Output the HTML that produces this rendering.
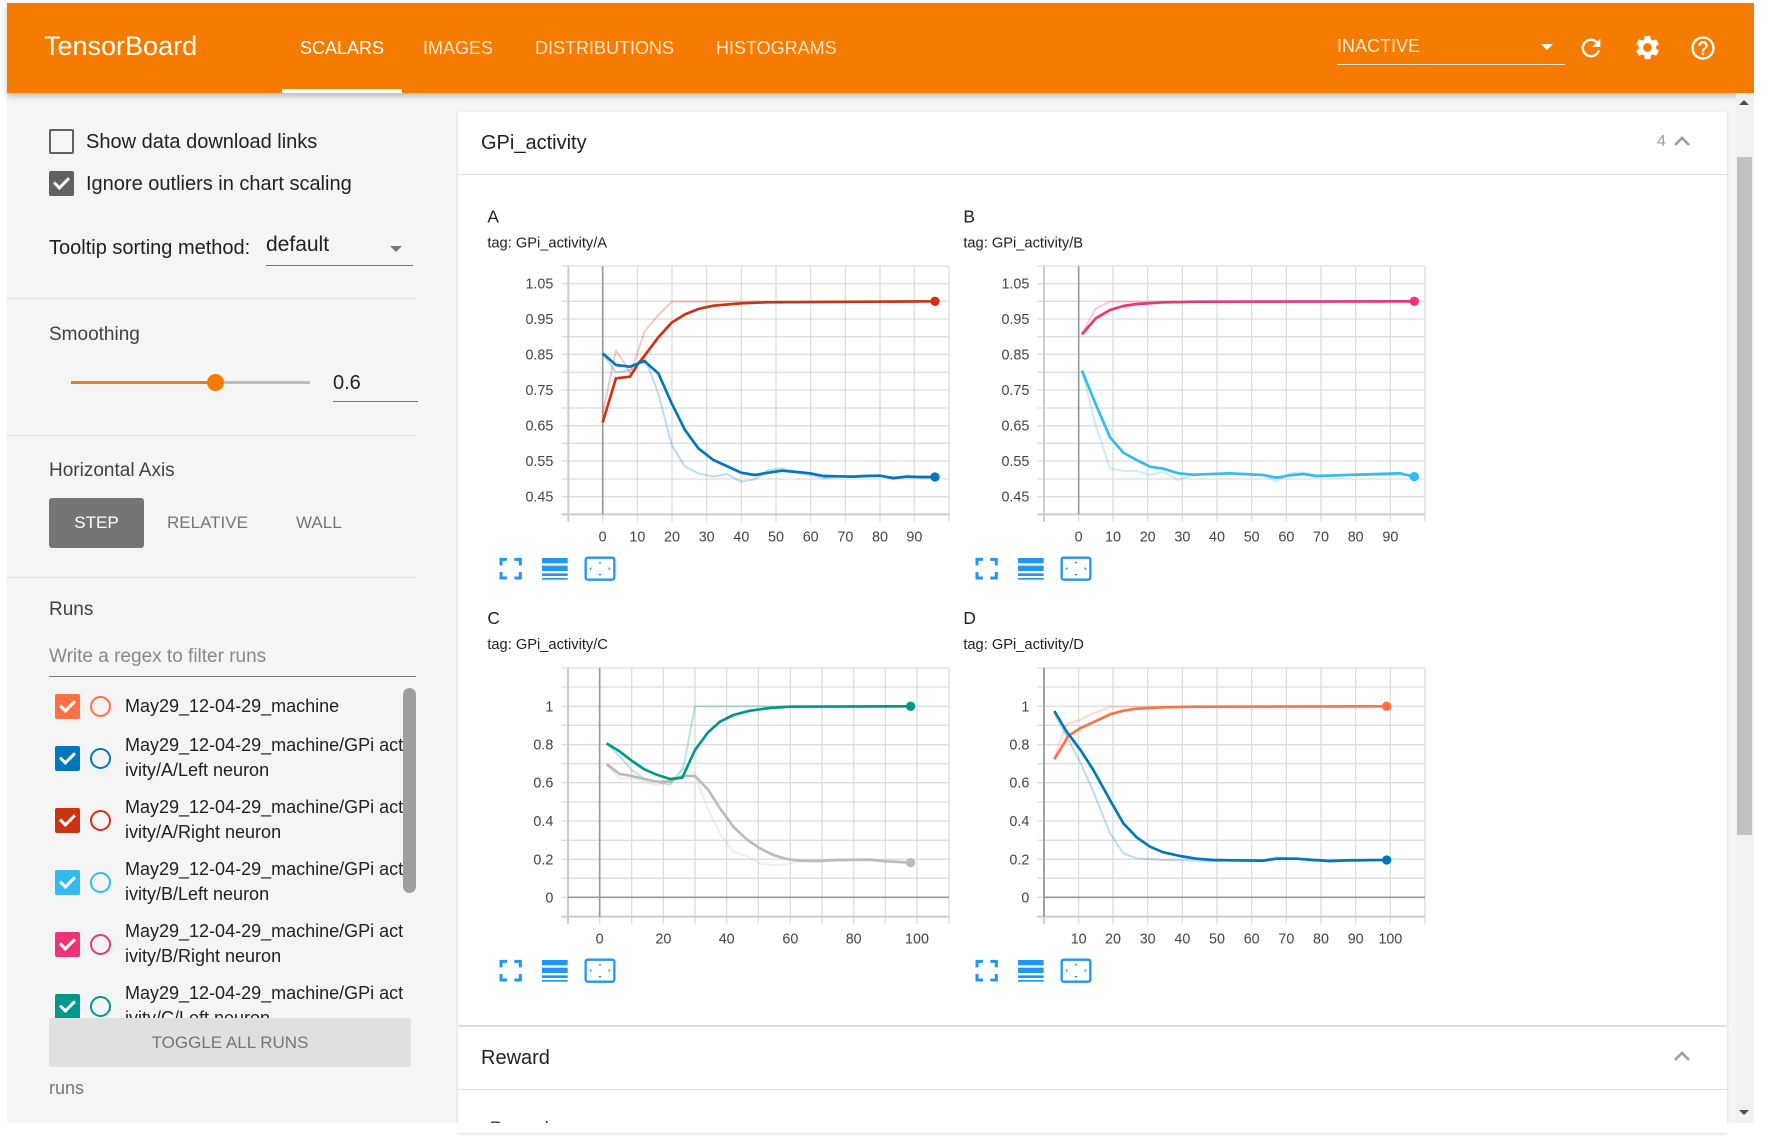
<!DOCTYPE html>
<html><head><meta charset="utf-8">
<style>
*{margin:0;padding:0;box-sizing:border-box}
body{width:1765px;height:1133px;overflow:hidden;background:#fff;font-family:"Liberation Sans",sans-serif;position:relative}
.a{position:absolute;white-space:nowrap}
.cb{position:absolute;width:25px;height:25px;border-radius:2px}
.ck::after{content:"";position:absolute;left:8px;top:3px;width:6px;height:12px;border:solid #fff;border-width:0 3px 3px 0;transform:rotate(45deg)}
.circ{position:absolute;width:21px;height:21px;border-radius:50%;border:2px solid}
.rt{position:absolute;left:125px;font-size:18px;color:#212121;line-height:25px}
</style></head><body>
<div class="a" style="left:7px;top:3px;width:1747px;height:1120px;background:#f5f5f5"></div>
<div class="a" style="left:7px;top:3px;width:1747px;height:90px;background:#f57c00;box-shadow:0 3px 6px rgba(0,0,0,.25)"></div>
<div class="a" style="left:44px;top:31px;font-size:27px;color:#fff">TensorBoard</div>
<div class="a" style="left:300px;top:38px;font-size:18px;color:#fff">SCALARS</div>
<div class="a" style="left:423px;top:38px;font-size:18px;color:rgba(255,255,255,.8)">IMAGES</div>
<div class="a" style="left:535px;top:38px;font-size:18px;color:rgba(255,255,255,.8)">DISTRIBUTIONS</div>
<div class="a" style="left:716px;top:38px;font-size:18px;color:rgba(255,255,255,.8)">HISTOGRAMS</div>
<div class="a" style="left:282px;top:89px;width:120px;height:4px;background:#fff"></div>
<div class="a" style="left:1337px;top:36px;font-size:18px;color:rgba(255,255,255,.8)">INACTIVE</div>
<div class="a" style="left:1337px;top:64px;width:228px;height:1px;background:rgba(255,255,255,.8)"></div>
<div class="a" style="left:1541px;top:44px;width:0;height:0;border-left:6px solid transparent;border-right:6px solid transparent;border-top:6px solid #fff"></div>
<svg class="a" style="left:1577px;top:34px" width="28" height="28" viewBox="0 0 24 24"><path fill="#fff" d="M17.65 6.35A7.958 7.958 0 0 0 12 4c-4.42 0-7.990 3.58-7.99 8s3.57 8 7.99 8c3.73 0 6.84-2.550 7.730-6h-2.080A5.99 5.99 0 0 1 12 18c-3.31 0-6-2.69-6-6s2.69-6 6-6c1.66 0 3.14.69 4.22 1.78L13 11h7V4l-2.35 2.35z"/></svg>
<svg class="a" style="left:1633px;top:33px" width="29" height="29" viewBox="0 0 24 24"><path fill="#fff" d="M19.14 12.94c.04-.3.06-.61.06-.94 0-.32-.02-.64-.07-.94l2.030-1.580a.49.49 0 0 0 .12-.61l-1.920-3.320a.488.488 0 0 0-.59-.22l-2.39.96c-.5-.38-1.030-.7-1.620-.94l-.36-2.540a.484.484 0 0 0-.48-.41h-3.84c-.24 0-.43.17-.47.41l-.36 2.540c-.59.24-1.130.57-1.620.94l-2.39-.96c-.22-.08-.47 0-.59.22L2.740 8.870c-.12.21-.08.47.12.61l2.030 1.580c-.05.3-.09.63-.09.94s.02.64.07.94l-2.030 1.580a.49.49 0 0 0-.12.61l1.920 3.320c.12.22.37.29.59.22l2.39-.96c.5.38 1.030.7 1.620.94l.36 2.540c.05.24.24.41.48.41h3.84c.24 0 .44-.17.47-.41l.36-2.540c.59-.24 1.130-.56 1.620-.94l2.39.96c.22.08.47 0 .59-.22l1.920-3.320c.12-.22.07-.47-.12-.61l-2.010-1.580zM12 15.6c-1.98 0-3.6-1.62-3.6-3.6s1.620-3.6 3.6-3.6 3.6 1.620 3.6 3.6-1.620 3.6-3.6 3.6z"/></svg>
<svg class="a" style="left:1689px;top:34px" width="28" height="28" viewBox="0 0 24 24"><path fill="#fff" d="M11 18h2v-2h-2v2zm1-16C6.48 2 2 6.48 2 12s4.48 10 10 10 10-4.48 10-10S17.52 2 12 2zm0 18c-4.41 0-8-3.59-8-8s3.59-8 8-8 8 3.59 8 8-3.59 8-8 8zm0-14c-2.21 0-4 1.79-4 4h2c0-1.1.9-2 2-2s2 .9 2 2c0 2-3 1.75-3 5h2c0-2.25 3-2.5 3-5 0-2.21-1.79-4-4-4z"/></svg>

<div class="cb" style="left:49px;top:129px;border:2px solid #616161"></div>
<div class="a" style="left:86px;top:131px;font-size:20px;color:#212121">Show data download links</div>
<div class="cb ck" style="left:49px;top:171px;background:#616161"></div>
<div class="a" style="left:86px;top:173px;font-size:20px;color:#212121">Ignore outliers in chart scaling</div>
<div class="a" style="left:49px;top:237px;font-size:20px;color:#212121">Tooltip sorting method:</div>
<div class="a" style="left:266px;top:233px;font-size:21px;color:#212121">default</div>
<div class="a" style="left:266px;top:265px;width:147px;height:1px;background:#777"></div>
<div class="a" style="left:390px;top:246px;border-left:6px solid transparent;border-right:6px solid transparent;border-top:6px solid #777"></div>
<div class="a" style="left:7px;top:298px;width:409px;height:1px;background:#ddd"></div>
<div class="a" style="left:49px;top:324px;font-size:19px;color:#424242">Smoothing</div>
<div class="a" style="left:71px;top:381px;width:144px;height:3px;background:#f57c00"></div>
<div class="a" style="left:215px;top:381px;width:95px;height:3px;background:#bdbdbd"></div>
<div class="a" style="left:207px;top:374px;width:17px;height:17px;border-radius:50%;background:#f57c00"></div>
<div class="a" style="left:333px;top:372px;font-size:20px;color:#212121">0.6</div>
<div class="a" style="left:333px;top:401px;width:85px;height:1px;background:#777"></div>
<div class="a" style="left:7px;top:435px;width:409px;height:1px;background:#ddd"></div>
<div class="a" style="left:49px;top:460px;font-size:19px;color:#424242">Horizontal Axis</div>
<div class="a" style="left:49px;top:498px;width:95px;height:50px;background:#757575;border-radius:3px;color:#fff;font-size:17px;text-align:center;line-height:50px">STEP</div>
<div class="a" style="left:167px;top:513px;font-size:17px;color:#757575">RELATIVE</div>
<div class="a" style="left:296px;top:513px;font-size:17px;color:#757575">WALL</div>
<div class="a" style="left:7px;top:577px;width:409px;height:1px;background:#ddd"></div>
<div class="a" style="left:49px;top:599px;font-size:19px;color:#424242">Runs</div>
<div class="a" style="left:49px;top:646px;font-size:19px;color:#888">Write a regex to filter runs</div>
<div class="a" style="left:49px;top:676px;width:367px;height:1px;background:#777"></div>
<div class="a" style="left:0;top:688px;width:420px;height:330px;overflow:hidden">
 <div class="cb ck" style="left:55px;top:6px;background:#ff7043"></div><div class="circ" style="left:90px;top:8px;border-color:#ff7043"></div><div class="rt" style="top:6px">May29_12-04-29_machine</div>
 <div class="cb ck" style="left:55px;top:58px;background:#0077bb"></div><div class="circ" style="left:90px;top:60px;border-color:#0077bb"></div><div class="rt" style="top:45px">May29_12-04-29_machine/GPi act<br>ivity/A/Left neuron</div>
 <div class="cb ck" style="left:55px;top:120px;background:#cc3311"></div><div class="circ" style="left:90px;top:122px;border-color:#cc3311"></div><div class="rt" style="top:107px">May29_12-04-29_machine/GPi act<br>ivity/A/Right neuron</div>
 <div class="cb ck" style="left:55px;top:182px;background:#33bbee"></div><div class="circ" style="left:90px;top:184px;border-color:#33bbee"></div><div class="rt" style="top:169px">May29_12-04-29_machine/GPi act<br>ivity/B/Left neuron</div>
 <div class="cb ck" style="left:55px;top:244px;background:#ee3377"></div><div class="circ" style="left:90px;top:246px;border-color:#ee3377"></div><div class="rt" style="top:231px">May29_12-04-29_machine/GPi act<br>ivity/B/Right neuron</div>
 <div class="cb ck" style="left:55px;top:306px;background:#009988"></div><div class="circ" style="left:90px;top:308px;border-color:#009988"></div><div class="rt" style="top:293px">May29_12-04-29_machine/GPi act<br>ivity/C/Left neuron</div>
 <div class="a" style="left:403px;top:0;width:13px;height:205px;border-radius:7px;background:#9e9e9e"></div>
</div>
<div class="a" style="left:49px;top:1018px;width:362px;height:49px;background:#e0e0e0;border-radius:3px;color:#757575;font-size:17px;text-align:center;line-height:49px">TOGGLE ALL RUNS</div>
<div class="a" style="left:49px;top:1078px;font-size:18px;color:#757575">runs</div>

<div class="a" style="left:458px;top:112px;width:1269px;height:913px;background:#fff;box-shadow:0 1px 3px rgba(0,0,0,.15)"></div>
<div class="a" style="left:458px;top:174px;width:1269px;height:1px;background:#e0e0e0"></div>
<div class="a" style="left:481px;top:132px;font-size:20px;color:#212121">GPi_activity</div>
<div class="a" style="left:1657px;top:133px;font-size:16px;color:#9e9e9e">4</div>
<svg class="a" style="left:1672px;top:134px" width="20" height="14" viewBox="0 0 20 14"><path d="M3 11 L10 4 L17 11" fill="none" stroke="#9e9e9e" stroke-width="2.6"/></svg>
<div class="a" style="left:458px;top:1027px;width:1269px;height:106px;background:#fff;box-shadow:0 1px 3px rgba(0,0,0,.15)"></div>
<div class="a" style="left:458px;top:1089px;width:1269px;height:1px;background:#e0e0e0"></div>
<div class="a" style="left:481px;top:1047px;font-size:20px;color:#212121">Reward</div>
<svg class="a" style="left:1672px;top:1049px" width="20" height="14" viewBox="0 0 20 14"><path d="M3 11 L10 4 L17 11" fill="none" stroke="#9e9e9e" stroke-width="2.6"/></svg>
<div class="a" style="left:490px;top:1118px;font-size:17px;color:#212121">Reward</div>
<div class="a" style="left:0;top:1123px;width:1765px;height:10px;background:#fff"></div>
<div class="a" style="left:1736px;top:93px;width:17px;height:1030px;background:#f1f1f1"></div>
<div class="a" style="left:1737px;top:157px;width:15px;height:678px;background:#c1c1c1"></div>
<div class="a" style="left:1739px;top:100px;border-left:5px solid transparent;border-right:5px solid transparent;border-bottom:5px solid #505050"></div>
<div class="a" style="left:1739px;top:1110px;border-left:5px solid transparent;border-right:5px solid transparent;border-top:5px solid #505050"></div>
<div class="a" style="left:1754px;top:0;width:11px;height:1133px;background:#fff"></div>

<div id="charts"></div>
<script>
function pl(p){return p.map(function(q){return q[0]+','+q[1]}).join(' ');}
function chart(c){
 var s='<svg class="a" style="left:'+c.ox+'px;top:'+c.oy+'px" width="520" height="'+c.h+'" viewBox="0 0 1560 '+(c.h*3)+'" font-family="Liberation Sans, sans-serif">';
 var V=c.v,H=c.hl,L=V[0],R=V[V.length-1],T=H[0],B=H[H.length-1];
 s+='<text x="'+c.tx+'" y="'+(c.ty+17)+'" font-size="52" fill="#212121">'+c.title+'</text>';
 s+='<text x="'+c.tx+'" y="'+(c.ty+92)+'" font-size="44" fill="#212121">tag: GPi_activity/'+c.title+'</text>';
 H.forEach(function(y){s+='<line x1="'+(L-20)+'" x2="'+R+'" y1="'+y+'" y2="'+y+'" stroke="#ddd" stroke-width="4"/>';});
 V.forEach(function(x){s+='<line x1="'+x+'" x2="'+x+'" y1="'+T+'" y2="'+(B+22)+'" stroke="#ddd" stroke-width="4"/>';});
 s+='<line x1="'+L+'" x2="'+L+'" y1="'+T+'" y2="'+(B+22)+'" stroke="#ccc" stroke-width="6"/>';
 s+='<line x1="'+(L-20)+'" x2="'+R+'" y1="'+B+'" y2="'+B+'" stroke="#ccc" stroke-width="6"/>';
 if(c.zv)s+='<line x1="'+c.zv+'" x2="'+c.zv+'" y1="'+T+'" y2="'+B+'" stroke="#999" stroke-width="5"/>';
 if(c.zh)s+='<line x1="'+L+'" x2="'+R+'" y1="'+c.zh+'" y2="'+c.zh+'" stroke="#999" stroke-width="5"/>';
 c.yl.forEach(function(t){s+='<text x="'+c.lx+'" y="'+(t[1]+15)+'" font-size="43" fill="#444" text-anchor="end">'+t[0]+'</text>';});
 c.xl.forEach(function(t){s+='<text x="'+t[1]+'" y="'+(c.xy+15)+'" font-size="43" fill="#444" text-anchor="middle">'+t[0]+'</text>';});
 c.s.forEach(function(r){s+='<polyline points="'+pl(r.raw)+'" fill="none" stroke="'+r.c+'" stroke-opacity="0.25" stroke-width="6" stroke-linejoin="round"/>';});
 c.s.forEach(function(r){s+='<polyline points="'+pl(r.sm)+'" fill="none" stroke="'+r.c+'" stroke-width="8" stroke-linejoin="round"/>';var e=r.sm[r.sm.length-1];s+='<circle cx="'+e[0]+'" cy="'+e[1]+'" r="14" fill="'+r.c+'"/>';});
 var ix=c.ix,iy=c.iy,b='#2196f3';
 s+='<path d="M'+ix+' '+(iy+18)+'V'+iy+'H'+(ix+18)+'M'+(ix+40)+' '+iy+'H'+(ix+58)+'V'+(iy+18)+'M'+(ix+58)+' '+(iy+38)+'V'+(iy+56)+'H'+(ix+40)+'M'+(ix+18)+' '+(iy+56)+'H'+ix+'V'+(iy+38)+'" fill="none" stroke="'+b+'" stroke-width="9"/>';
 var lx=ix+123;s+='<rect x="'+lx+'" y="'+(iy-4)+'" width="77" height="16" fill="'+b+'"/><rect x="'+lx+'" y="'+(iy+19)+'" width="77" height="16" fill="'+b+'"/><rect x="'+lx+'" y="'+(iy+42)+'" width="77" height="8" fill="'+b+'"/><rect x="'+lx+'" y="'+(iy+56)+'" width="77" height="5" fill="'+b+'"/>';
 var fx=ix+254;s+='<rect x="'+fx+'" y="'+(iy-5)+'" width="86" height="66" rx="6" fill="none" stroke="'+b+'" stroke-width="7"/>';
 s+='<path d="M'+(fx+38)+' '+(iy+12)+'l5 -6 5 6zM'+(fx+38)+' '+(iy+44)+'l5 6 5 -6zM'+(fx+17)+' '+(iy+23)+'l-6 5 6 5zM'+(fx+69)+' '+(iy+23)+'l6 5 -6 5z" fill="'+b+'"/>';
 return s+'</svg>';
}
var HA=[258,311,364,417,470,523,577,630,684,737,790,843,897,950,1003];
var HC=[204,261,319,376,434,491,548,606,663,721,778,835,892,950];
var yA=[['1.05',311],['0.95',417],['0.85',523],['0.75',630],['0.65',737],['0.55',843],['0.45',950]];
var yC=[['1',319],['0.8',434],['0.6',548],['0.4',663],['0.2',778],['0',892]];
var out='';
out+=chart({ox:450,oy:180,h:420,title:'A',tx:112,ty:110,v:[355,458,562,666,770,874,978,1082,1186,1290,1393,1497],hl:HA,zv:458,yl:yA,lx:310,
 xl:[['0',458],['10',562],['20',666],['30',770],['40',874],['50',978],['60',1082],['70',1186],['80',1290],['90',1393]],xy:1070,ix:153,iy:1138,
 s:[{c:'#cc3311',raw:[[458,700],[498,512],[520,545],[540,580],[562,520],[583,455],[625,405],[665,365],[1455,364]],
     sm:[[458,727],[498,595],[540,590],[562,555],[583,528],[625,472],[665,428],[705,403],[745,387],[790,377],[873,370],[950,367],[1455,364]]},
    {c:'#0077bb',raw:[[458,520],[498,578],[540,570],[583,530],[625,640],[665,795],[705,860],[745,880],[790,890],[830,882],[873,905],[915,898],[955,870],[997,865],[1040,878],[1080,885],[1120,895],[1165,890],[1210,888],[1250,886],[1290,888],[1330,898],[1370,886],[1410,892],[1455,892]],
     sm:[[458,520],[498,555],[540,560],[583,543],[625,580],[665,670],[705,750],[745,805],[790,840],[830,858],[873,878],[915,885],[955,878],[997,872],[1040,876],[1080,880],[1120,888],[1165,889],[1210,890],[1250,888],[1290,887],[1330,894],[1370,890],[1410,891],[1455,891]]}]});
out+=chart({ox:930,oy:180,h:420,title:'B',tx:100,ty:110,v:[342,446,549,653,757,861,965,1069,1173,1277,1381,1485],hl:HA,zv:446,yl:yA,lx:298,
 xl:[['0',446],['10',549],['20',653],['30',757],['40',861],['50',965],['60',1069],['70',1173],['80',1277],['90',1381]],xy:1070,ix:141,iy:1138,
 s:[{c:'#ee3377',raw:[[456,460],[497,385],[540,365],[1453,364]],sm:[[456,463],[497,415],[540,390],[580,378],[620,372],[700,367],[800,365],[1453,364]]},
    {c:'#33bbee',raw:[[456,572],[497,735],[540,865],[580,873],[620,873],[660,885],[700,875],[745,900],[790,885],[900,880],[1000,885],[1040,905],[1080,880],[1120,877],[1160,890],[1250,885],[1453,885]],
     sm:[[456,572],[497,672],[540,772],[580,818],[620,840],[660,860],[700,866],[745,880],[790,884],[900,880],[1000,885],[1040,893],[1080,886],[1120,882],[1160,888],[1250,885],[1410,880],[1453,890]]}]});
out+=chart({ox:450,oy:600,h:400,title:'C',tx:112,ty:55,v:[354,449,545,640,735,830,925,1021,1116,1211,1306,1401,1497],hl:HC,zv:449,zh:892,yl:yC,lx:310,
 xl:[['0',449],['20',640],['40',830],['60',1021],['80',1211],['100',1401]],xy:1015,ix:153,iy:1084,
 s:[{c:'#bbbbbb',raw:[[470,495],[510,535],[545,535],[583,545],[620,555],[660,545],[700,505],[735,520],[770,620],[810,700],[850,755],[890,768],[930,790],[970,795],[1010,793],[1050,783],[1100,785],[1200,780],[1260,777],[1300,785],[1382,790]],
     sm:[[470,493],[510,522],[545,528],[583,537],[620,545],[660,545],[697,528],[735,528],[775,570],[810,625],[850,680],[890,718],[930,745],[970,765],[1010,777],[1050,782],[1100,783],[1160,780],[1260,779],[1300,783],[1382,788]]},
    {c:'#009988',raw:[[470,432],[510,470],[545,510],[583,535],[620,545],[660,555],[700,505],[735,319],[1382,319]],
     sm:[[470,430],[510,455],[545,482],[583,508],[620,524],[660,537],[697,533],[735,450],[775,396],[810,365],[850,345],[900,332],[960,324],[1021,320],[1382,319]]}]});
out+=chart({ox:930,oy:600,h:400,title:'D',tx:100,ty:55,v:[342,446,549,653,757,861,965,1069,1173,1277,1381,1485],hl:HC,zv:342,zh:892,yl:yC,lx:298,
 xl:[['10',446],['20',549],['30',653],['40',757],['50',861],['60',965],['70',1069],['80',1173],['90',1277],['100',1381]],xy:1015,ix:141,iy:1084,
 s:[{c:'#ff7043',raw:[[373,470],[410,372],[450,360],[490,340],[540,320],[1370,319]],sm:[[373,478],[415,408],[450,385],[500,362],[540,343],[580,332],[620,326],[700,322],[800,320],[1370,319]]},
    {c:'#0077bb',raw:[[373,340],[410,410],[450,485],[490,575],[540,700],[580,760],[620,775],[700,780],[800,782],[830,785],[900,780],[1000,780],[1040,772],[1100,775],[1150,780],[1200,785],[1370,780]],
     sm:[[373,333],[410,395],[450,448],[490,510],[540,600],[580,670],[620,712],[660,740],[700,757],[750,768],[800,776],[850,780],[900,781],[1000,782],[1040,776],[1100,776],[1150,780],[1200,783],[1250,781],[1370,780]]}]});
document.getElementById('charts').innerHTML=out;
</script>
</body></html>
